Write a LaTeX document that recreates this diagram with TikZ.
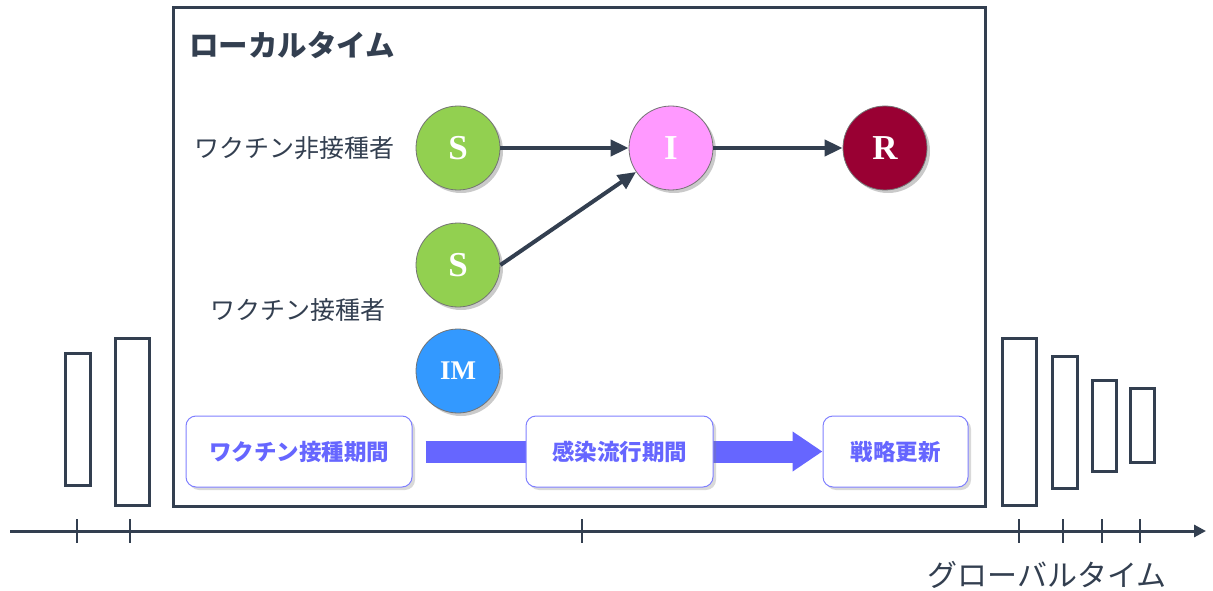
\documentclass[tikz,border=0pt]{standalone}
\usepackage{fontspec}
\setmainfont{Liberation Serif}
\newfontfamily\jp{Noto Sans CJK JP}
\usetikzlibrary{arrows.meta,shadows,positioning}
\definecolor{ink}{HTML}{333F50}
\definecolor{sgreen}{HTML}{92D050}
\definecolor{ipink}{HTML}{FF99FF}
\definecolor{rred}{HTML}{990033}
\definecolor{imblue}{HTML}{3399FF}
\definecolor{lav}{HTML}{6666FF}
\definecolor{lavb}{HTML}{8080FF}
\tikzset{
  state/.style={circle, minimum size=84pt, inner sep=0pt, draw=black!55, line width=0.8pt,
    text=white, font=\bfseries\fontsize{35}{35}\selectfont,
    drop shadow={shadow xshift=3pt, shadow yshift=-3pt, opacity=0.35, fill=black!60}},
  phase/.style={rounded corners=10pt, draw=lavb, line width=1pt, fill=white, text=lav,
    minimum height=71pt, font=\jp\bfseries\fontsize{22.5}{22.5}\selectfont,
    drop shadow={shadow xshift=3pt, shadow yshift=-3pt, opacity=0.3, fill=black!50}},
  flow/.style={draw=ink, line width=4pt, -{Triangle[length=18pt,width=16pt]}},
  bar/.style={draw=ink, line width=3pt},
  tick/.style={draw=ink, line width=1.5pt},
  lbl/.style={text=ink, font=\jp\fontsize{25}{25}\selectfont, inner sep=0pt}
}
\begin{document}
\begin{tikzpicture}[x=1pt,y=-1pt]
\useasboundingbox (0,0) rectangle (1213,591);
% main box
\draw[ink, line width=3pt] (173,8) rectangle (985,506);
\node[lbl, font=\jp\bfseries\fontsize{29.5}{29.5}\selectfont, anchor=west] (title) at (189,45) {ローカルタイム};
\node[lbl] (lab1) at (294,148) {ワクチン非接種者};
\node[lbl] (lab2) at (298,310) {ワクチン接種者};
% states
\node[state, fill=sgreen] (s1) at (458,148) {S};
\node[state, fill=sgreen] (s2) at (458,265) {S};
\node[state, fill=imblue, font=\bfseries\fontsize{27}{27}\selectfont] (im) at (458,371) {IM};
\node[state, fill=ipink] (i) at (671,148) {I};
\node[state, fill=rred] (r) at (885,148) {R};
\draw[flow] (s1) -- (i);
\draw[flow] (i) -- (r);
\draw[flow] (s2.east) -- (i);
% phases
\node[phase, minimum width=226pt] (p1) at (299,451.5) {ワクチン接種期間};
\node[phase, minimum width=145pt] (p3) at (895.5,451.5) {戦略更新};
\draw[lav, line width=22pt, -{Triangle[length=30pt,width=38pt]}, shorten <=13pt] (p1.east) -- (p3.west);
\node[phase, minimum width=187pt] (p2) at (619.5,451.5) {感染流行期間};
% bars
\draw[bar] (65,353) rectangle (90,485);
\draw[bar] (115,338) rectangle (149,505);
\draw[bar] (1002,338) rectangle (1036,505);
\draw[bar] (1052,356) rectangle (1077,488);
\draw[bar] (1092,380) rectangle (1116,471);
\draw[bar] (1130,388) rectangle (1154,462);
% axis
\coordinate (a0) at (10,531);
\coordinate (a1) at (1206,531);
\draw[ink, line width=3pt, -{Triangle[length=12pt,width=12pt]}] (a0) -- (a1);
\foreach \x in {77,130,582,1019,1063,1102,1140}
  \draw[tick] (\x,519) -- (\x,543);
\node[lbl, font=\jp\fontsize{30}{30}\selectfont] (gt) at (1047,575) {グローバルタイム};
\end{tikzpicture}
\end{document}
